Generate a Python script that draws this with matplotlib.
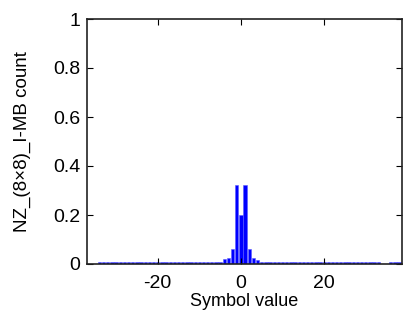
import matplotlib
matplotlib.use("Agg")
import matplotlib.pyplot as plt
import numpy as np

symbols = list(range(-34, 39))
counts = [
    0.008, 0.008, 0.008, 0.008, 0.008, 0.008, 0.008, 0.008, 0.008, 0.008,
    0.008, 0.008, 0.008, 0.008, 0.008, 0.008, 0.008, 0.008, 0.008, 0.008,
    0.008, 0.008, 0.008, 0.008, 0.008, 0.008, 0.008, 0.008, 0.008, 0.008,
    0.020, 0.026, 0.060, 0.322, 0.200, 0.322, 0.060, 0.025, 0.015,
    0.008, 0.008, 0.008, 0.008, 0.008, 0.008, 0.008, 0.008, 0.008, 0.008,
    0.008, 0.008, 0.008, 0.008, 0.008, 0.008, 0.008, 0.008, 0.008, 0.008,
    0.008, 0.008, 0.008, 0.008, 0.008, 0.008, 0.008, 0.008, 0.008, 0.0,
    0.0, 0.008, 0.008, 0.008,
]
xticks = [-20, 0, 20]
xtick_labels = ["-20", "0", "20"]
yticks = [0, 0.2, 0.4, 0.6, 0.8, 1]
ytick_labels = ["0", "0.2", "0.4", "0.6", "0.8", "1"]

plt.rcParams['font.family'] = ['Liberation Sans', 'DejaVu Sans']

fig = plt.figure(figsize=(4.06, 3.21), dpi=100)
ax = fig.add_axes([87/406, 57/321, (402-87)/406, (264-19)/321])
ax.bar(symbols, counts, width=0.8, color='#0000ff', edgecolor='#5a5aff', linewidth=0.4)
ax.set_xlim(-37, 38.7)
ax.set_ylim(0, 1)
ax.set_xticks(xticks)
ax.set_xticklabels(xtick_labels)
ax.set_yticks(yticks)
ax.set_yticklabels(ytick_labels)
ax.tick_params(direction='in', length=4, width=0.8, labelsize=14, top=True, right=True,
               colors='black')
ax.tick_params(axis='x', pad=8)
ax.tick_params(axis='y', pad=5)
for s in ax.spines.values():
    s.set_linewidth(1.2)
    s.set_color('#222222')
ax.set_xlabel("Symbol value", fontsize=13, labelpad=1)
ax.set_ylabel("NZ_(8×8)_I-MB count", fontsize=13.5, labelpad=16)
fig.savefig("out.png", dpi=100)
